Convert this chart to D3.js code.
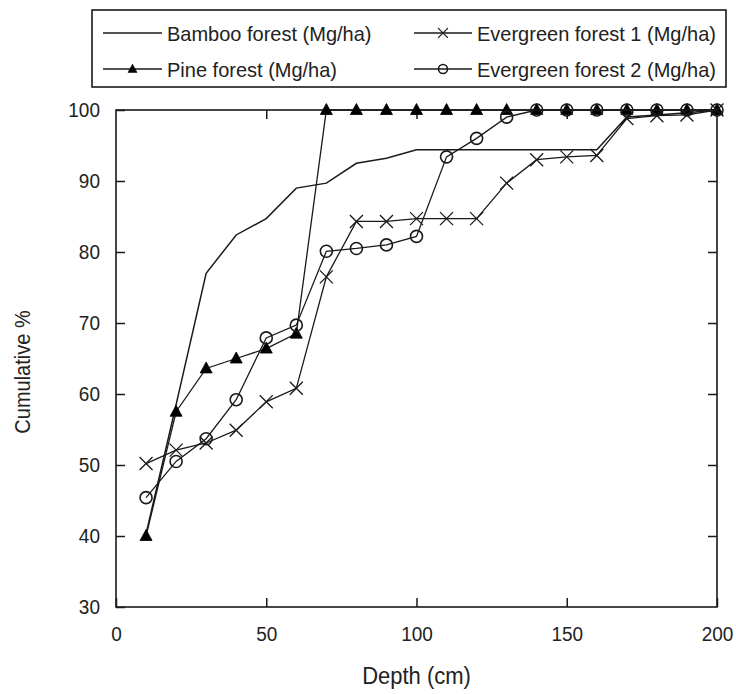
<!DOCTYPE html>
<html>
<head>
<meta charset="utf-8">
<script src="https://cdn.jsdelivr.net/npm/d3@7/dist/d3.min.js"></script>
<style>
  body { margin: 0; background: #fff; }
  text { font-family: Arial, "Liberation Sans", sans-serif; fill: #222; }
</style>
</head>
<body>
<svg id="chart" width="736" height="694"></svg>
<script>
const depths = [10,20,30,40,50,60,70,80,90,100,110,120,130,140,150,160,170,180,190,200];
const bamboo = [40.3,58.5,77.0,82.4,84.7,89.0,89.7,92.5,93.2,94.4,94.4,94.4,94.4,94.4,94.4,94.4,99.0,99.3,99.6,100];
const pine = [40.0,57.5,63.6,65.0,66.4,68.5,100,100,100,100,100,100,100,100,100,100,100,100,100,100];
const evergreen1 = [50.2,52.1,53.1,54.9,58.9,60.8,76.5,84.3,84.3,84.7,84.7,84.7,89.7,93.0,93.4,93.6,98.8,99.2,99.3,100];
const evergreen2 = [45.4,50.5,53.7,59.2,67.9,69.7,80.1,80.5,81.0,82.2,93.4,96.0,99.0,100,100,100,100,100,100,100];
const seriesNames = ["Bamboo forest (Mg/ha)","Pine forest (Mg/ha)","Evergreen forest 1 (Mg/ha)","Evergreen forest 2 (Mg/ha)"];
const xTicks = [0,50,100,150,200];
const yTicks = [30,40,50,60,70,80,90,100];
const xTitle = "Depth (cm)";
const yTitle = "Cumulative %";

const svg = d3.select("#chart");
const L = 116, R = 717, T = 110, B = 607;
const x = d3.scaleLinear().domain([0,200]).range([L,R]);
const y = d3.scaleLinear().domain([30,100]).range([B,T]);
const ink = "#1a1a1a";
const stretch = 1.1;

// axes (ticks inside, labels outside)
const tickLen = 9;
svg.append("g").attr("transform",`translate(0,${B})`)
  .call(d3.axisBottom(x).tickValues(xTicks).tickSize(-tickLen).tickPadding(0))
  .call(g => { g.select(".domain").remove();
    g.selectAll("text").attr("font-size",19).attr("fill","#222")
      .attr("y", 19/stretch).attr("dy","0.71em").attr("transform",`scale(1,${stretch})`);
    g.selectAll("line").attr("stroke",ink).attr("stroke-width",1.5); });
svg.append("g").attr("transform",`translate(0,${T})`)
  .call(d3.axisTop(x).tickValues(xTicks.slice(1,-1)).tickSize(-tickLen).tickFormat(""))
  .call(g => { g.select(".domain").remove(); g.selectAll("line").attr("stroke",ink).attr("stroke-width",1.5); });
svg.append("g").attr("transform",`translate(${L},0)`)
  .call(d3.axisLeft(y).tickValues(yTicks).tickSize(-tickLen).tickPadding(16))
  .call(g => { g.select(".domain").remove();
    g.selectAll("text").attr("font-size",19).attr("fill","#222").attr("transform",`scale(1,${stretch})`);
    g.selectAll("line").attr("stroke",ink).attr("stroke-width",1.5); });
svg.append("g").attr("transform",`translate(${R},0)`)
  .call(d3.axisRight(y).tickValues(yTicks.slice(1,-1)).tickSize(-tickLen).tickFormat(""))
  .call(g => { g.select(".domain").remove(); g.selectAll("line").attr("stroke",ink).attr("stroke-width",1.5); });

svg.append("rect").attr("x",L).attr("y",T).attr("width",R-L).attr("height",B-T)
  .attr("fill","none").attr("stroke",ink).attr("stroke-width",1.6);

// titles
svg.append("text").attr("transform",`translate(${x(100)},684) scale(1,${stretch})`).attr("text-anchor","middle")
  .attr("font-size",22).text(xTitle);
svg.append("text").attr("transform",`translate(30,372) rotate(-90) scale(1,${stretch})`).attr("text-anchor","middle")
  .attr("font-size",20).text(yTitle);

// series
const line = d3.line().x(d => x(d[0])).y(d => y(d[1]));
const zip = vals => depths.map((d,i) => [d, vals[i]]);
const allSeries = [
  {name: seriesNames[0], data: zip(bamboo), marker: "none"},
  {name: seriesNames[1], data: zip(pine), marker: "tri"},
  {name: seriesNames[2], data: zip(evergreen1), marker: "x"},
  {name: seriesNames[3], data: zip(evergreen2), marker: "circ"}
];

const triPath = "M0,-6.5L6,4.5L-6,4.5Z";
function drawMarker(g, type, cx, cy, scale) {
  const s = scale || 1;
  if (type === "tri") {
    g.append("path").attr("d", triPath).attr("transform",`translate(${cx},${cy}) scale(${s})`)
      .attr("fill","#000").attr("stroke","#000").attr("stroke-width",0.8);
  } else if (type === "x") {
    const r = 6.5 * s;
    g.append("path").attr("d",`M${cx-r},${cy-r}L${cx+r},${cy+r}M${cx-r},${cy+r}L${cx+r},${cy-r}`)
      .attr("stroke",ink).attr("stroke-width",1.3).attr("fill","none");
  } else if (type === "circ") {
    g.append("circle").attr("cx",cx).attr("cy",cy).attr("r",6*s)
      .attr("fill","none").attr("stroke",ink).attr("stroke-width",1.6);
  }
}

allSeries.forEach(s => {
  const g = svg.append("g");
  g.append("path").datum(s.data).attr("d", line).attr("fill","none")
    .attr("stroke", ink).attr("stroke-width", s.marker === "none" ? 1.5 : 1.3);
  if (s.marker !== "none") {
    s.data.forEach(d => drawMarker(g, s.marker, x(d[0]), y(d[1])));
  }
});

// legend
const lg = svg.append("g");
lg.append("rect").attr("x",92).attr("y",10).attr("width",634).attr("height",77)
  .attr("fill","#fff").attr("stroke",ink).attr("stroke-width",1.6);
const legendPos = [
  {x1:103, x2:162, tx:167, ty:33, s:allSeries[0]},
  {x1:103, x2:162, tx:167, ty:69, s:allSeries[1]},
  {x1:414, x2:472, tx:477, ty:33, s:allSeries[2]},
  {x1:414, x2:472, tx:477, ty:69, s:allSeries[3]}
];
legendPos.forEach(p => {
  lg.append("line").attr("x1",p.x1).attr("x2",p.x2).attr("y1",p.ty).attr("y2",p.ty)
    .attr("stroke",ink).attr("stroke-width",1.5);
  if (p.s.marker !== "none") drawMarker(lg, p.s.marker, (p.x1+p.x2)/2, p.ty, 0.75);
  lg.append("text").attr("transform",`translate(${p.tx},${p.ty}) scale(1,1.05)`).attr("dy","0.36em")
    .attr("font-size",20).text(p.s.name);
});
</script>
</body>
</html>
